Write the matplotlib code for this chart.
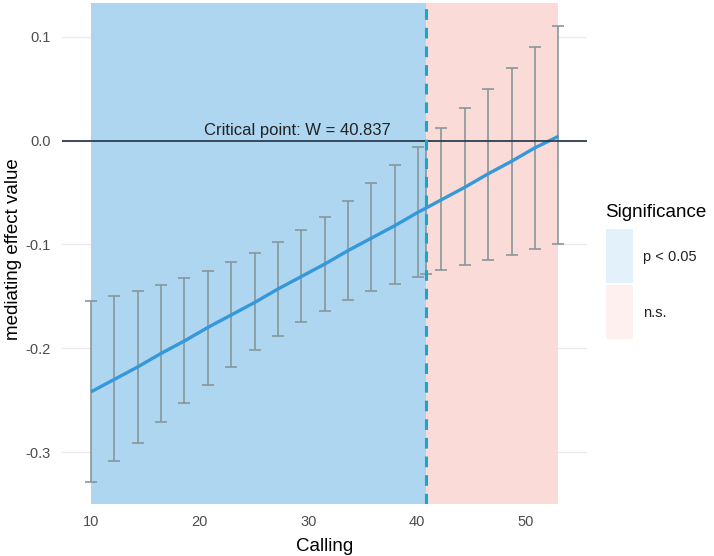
import matplotlib
matplotlib.use("Agg")
import matplotlib.pyplot as plt
from matplotlib.patches import Rectangle

plt.rcParams['font.family'] = ['Liberation Sans', 'DejaVu Sans']

# data
calling = [10, 12.15, 14.3, 16.45, 18.6, 20.75, 22.9, 25.05, 27.2, 29.35, 31.5,
           33.65, 35.8, 37.95, 40.1, 40.837, 42.25, 44.4, 46.55, 48.7, 50.85, 53]
effect = [-0.242, -0.230, -0.218, -0.205, -0.193, -0.180, -0.168, -0.156, -0.143,
          -0.131, -0.119, -0.106, -0.094, -0.082, -0.069, -0.065, -0.057, -0.045,
          -0.032, -0.020, -0.007, 0.004]
ci_low = [-0.329, -0.309, -0.291, -0.271, -0.253, -0.235, -0.218, -0.202, -0.188,
          -0.175, -0.164, -0.154, -0.145, -0.138, -0.131, -0.129, -0.125, -0.120,
          -0.115, -0.110, -0.104, -0.100]
ci_high = [-0.155, -0.150, -0.145, -0.139, -0.132, -0.126, -0.117, -0.108, -0.098,
           -0.086, -0.074, -0.058, -0.041, -0.024, -0.006, 0.0, 0.012, 0.031,
           0.050, 0.070, 0.090, 0.110]
critical_w = 40.837
x_min, x_max = 10, 53
sig_labels = ['p < 0.05', 'n.s.']

fig = plt.figure(figsize=(7.14, 5.56), dpi=100)
ax = fig.add_axes([0.0868, 0.093, 0.822 - 0.0868, 0.9940 - 0.093])

# significance regions
ax.axvspan(x_min, critical_w, color='#AED6F1', lw=0, zorder=1)
ax.axvspan(critical_w, x_max, color='#FADBD8', lw=0, zorder=1)

# error bars
lo_err = [e - l for e, l in zip(effect, ci_low)]
hi_err = [h - e for e, h in zip(effect, ci_high)]
ax.errorbar(calling, effect, yerr=[lo_err, hi_err], fmt='none', ecolor='#87979A',
            elinewidth=1.2, capsize=4.5, capthick=1.2, zorder=3)

ax.plot(calling, effect, color='#3498DB', lw=2.4, zorder=4, solid_capstyle='butt')
ax.axhline(0, color='#2C3E50', lw=1.3, zorder=5)
ax.axvline(critical_w, color='#17A9C4', lw=2.2, ls=(0, (3.5, 2.6)), zorder=6)

ax.text(29.0, 0.002, 'Critical point: W = 40.837', ha='center', va='bottom',
        fontsize=12, color='#222222', zorder=7)

ax.set_xlim(7.33, 55.63)
ax.set_ylim(-0.3503, 0.1321)
ax.set_xticks([10, 20, 30, 40, 50])
ax.set_yticks([-0.3, -0.2, -0.1, 0.0, 0.1])
ax.set_yticklabels(['-0.3', '-0.2', '-0.1', '0.0', '0.1'])
ax.tick_params(length=0, labelsize=10.5, labelcolor='#4D4D4D', pad=8)
ax.grid(True, color='#EBEBEB', lw=1.0, zorder=0)
ax.set_axisbelow(True)
for s in ax.spines.values():
    s.set_visible(False)

ax.set_xlabel('Calling', fontsize=13.5, labelpad=6)
ax.set_ylabel('mediating effect value', fontsize=13.5)
ax.yaxis.set_label_coords(-0.077, 0.51)

# legend drawn by hand
fig.text(605 / 714, 1 - 212 / 556, 'Significance', fontsize=13.5, ha='left', va='center')
legend_cols = ['#E3F1FB', '#FDF0EF']
for i, (lab, col) in enumerate(zip(sig_labels, legend_cols)):
    top = 229 + i * 56
    fig.patches.append(Rectangle((606 / 714, 1 - (top + 54) / 556), 27 / 714, 54 / 556,
                                 transform=fig.transFigure, color=col, lw=0))
    fig.text(643 / 714, 1 - (top + 28) / 556, lab, fontsize=10.5, ha='left', va='center',
             color='#222222')

fig.savefig('out.png', dpi=100)
